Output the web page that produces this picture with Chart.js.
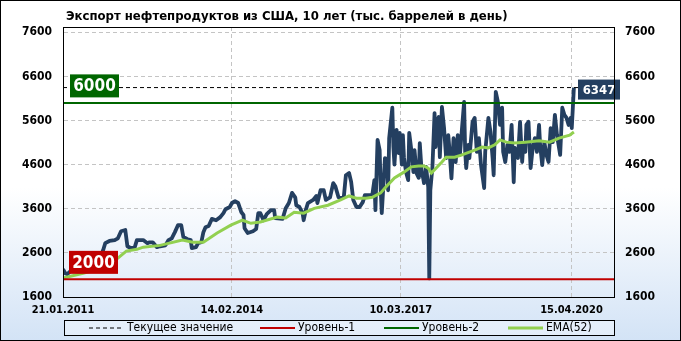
<!DOCTYPE html>
<html><head><meta charset="utf-8">
<script src="https://cdn.jsdelivr.net/npm/chart.js@4.4.0/dist/chart.umd.min.js"></script>
<style>html,body{margin:0;padding:0;background:#fff}#wrap{width:681px;height:341px;position:relative}</style>
</head><body><div id="wrap"><canvas id="c"></canvas></div>
<script>
// ---------- DATA ----------
const titleText = 'Экспорт нефтепродуктов из США, 10 лет (тыс. баррелей в день)';
const dateTickWeeks = [0, 160, 320, 481.7];           // weeks since 21.01.2011
const dateTickLabels = ['21.01.2011', '14.02.2014', '10.03.2017', '15.04.2020'];
const valueTicks = [1600, 2600, 3600, 4600, 5600, 6600, 7600];
const exportWeeks = [0,2,4,10,16,21,27,33,36,38,40,44,49,52,55,59,61,64,68,70,76,80,82,85,89,92,97,100,103,106,109,112,114,118,121,122,126,128,131,133,135,138,141,145,149,152,154,158,160,163,166,169,171,172,175,180,183,185,187,190,193,197,200,201,208,211,214,217,220,221,224,227,228,230,232,237,240,241,244,247,249,253,256,258,261,263,266,268,271,273,275,278,281,284,286,
  293,295,296,298,300,301,302,304,305,307,308,309,312,313,314,316,318,319,321,322,323,325,327,328,330,332,333,335,337,338,340,341,342,344,346,347,348,350,352,353,354,356,357,359,
  361,363,365,366,368,370,372,374,376,378,380,381,382,384,385,388,390,392,394,396,399,400,403,405,407,408,410,412,414,416,417,419,421,423,425,427,428,431,433,435,436,438,439,441,443,445,447,449,451,452,454,456,458,460,462,464,466,468,471,473,475,477,479,481,482,484];
const exportValues = [2230,2140,2120,2250,2300,2370,2390,2480,2520,2660,2820,2870,2890,2930,3090,3120,2750,2710,2730,2890,2890,2820,2840,2840,2730,2750,2770,2890,2930,3070,3230,3230,2960,2910,2890,2710,2730,2820,2840,3070,3180,3210,3370,3340,3410,3500,3590,3640,3730,3770,3730,3520,3460,3160,3050,3090,3140,3500,3500,3340,3480,3570,3570,3390,3370,3610,3730,3960,3860,3680,3640,3500,3340,3570,3730,3800,3890,3730,4020,4020,3800,3860,4180,4110,3860,3840,3860,4360,4410,4210,3800,3640,3640,3750,3910,
  3910,4250,3570,5160,4930,4020,3500,4320,4750,4710,4020,5200,5890,5000,4600,5390,4860,5320,4600,5270,4770,4430,4250,5320,4930,4430,4930,4400,4300,5090,4360,4320,4180,4550,4090,2020,4020,4550,5770,5000,5550,5680,4770,5910,
  5430,4750,5270,4980,4290,5200,4660,5270,4820,5430,6020,4890,4520,5050,4750,5570,5660,4890,5200,4590,4070,4890,5660,5340,4750,4360,6250,6020,5500,5890,4890,4660,5050,4890,5500,4200,4980,4750,5570,4660,5050,4890,5500,5570,4520,4980,5200,4890,5500,5050,4590,5110,4820,4660,5430,5110,5730,5270,4820,5890,5730,5660,5500,5660,5430,6347];
const emaWeeks = [0,19,41,52,60,70,76,92,113,123,133,146,159,170,178,187,203,211,219,228,238,251,263,271,278,287,293,301,305,314,323,330,337,342,346,349,359,363,371,378,390,397,403,409,414,420,428,438,451,461,470,480,484];
const emaValues = [2030,2140,2280,2480,2640,2680,2730,2770,2890,2840,2840,3050,3230,3340,3270,3300,3410,3390,3520,3500,3610,3680,3800,3890,3840,3840,3860,3960,4070,4300,4430,4550,4570,4570,4520,4410,4660,4770,4770,4820,4930,5000,4980,5050,5160,5110,5090,5110,5140,5110,5200,5270,5340];
const level1 = 2000;
const level2 = 6000;
const currentValue = 6347;
const legendLabels = ['Текущее значение', 'Уровень-1', 'Уровень-2', 'EMA(52)'];

// ---------- STYLE ----------
const FONT = "'DejaVu Sans Condensed','DejaVu Sans',sans-serif";
const NAVY = '#243f60', EMA_C = '#92d050', GREEN = '#006600', RED = '#c00000';
const X_MIN = 0, X_MAX = 522, Y_MIN = 1600, Y_MAX = 7720;

const toPts = (xs, ys) => xs.map((x, i) => ({x, y: ys[i]}));
const flat = v => [{x: X_MIN, y: v}, {x: X_MAX, y: v}];

const decor = {
  id: 'decor',
  beforeDraw(chart) {
    const {ctx, width, height} = chart;
    const g = ctx.createLinearGradient(0, 0, 0, height);
    g.addColorStop(0, '#ffffff'); g.addColorStop(0.55, '#ffffff'); g.addColorStop(1, '#d3e3f6');
    ctx.save(); ctx.fillStyle = g; ctx.fillRect(0, 0, width, height); ctx.restore();
  },
  afterDatasetsDraw(chart) {
    const {ctx} = chart;
    const ys = chart.scales.y;
    const a = chart.chartArea;
    const box = (text, x, yc, w, h, bg, size) => {
      ctx.fillStyle = bg; ctx.fillRect(x, yc - h / 2, w, h);
      ctx.fillStyle = '#fff'; ctx.font = 'bold ' + size + 'px ' + FONT;
      ctx.textAlign = 'center'; ctx.textBaseline = 'middle';
      ctx.fillText(text, x + w / 2, yc + 1);
    };
    ctx.save();
    box(String(level2), a.left + 7, ys.getPixelForValue(level2) - 17, 49, 23, GREEN, 17);
    box(String(level1), a.left + 6, ys.getPixelForValue(level1) - 17, 49, 23, RED, 17);
    box(String(currentValue), a.right - 36, ys.getPixelForValue(currentValue) + 2, 42, 20, NAVY, 13);
    ctx.strokeStyle = '#000'; ctx.lineWidth = 1;
    ctx.strokeRect(Math.round(a.left) + 0.5, Math.round(a.top) + 0.5, Math.round(a.right - a.left), Math.round(a.bottom - a.top));
    ctx.restore();
  },
  afterDraw(chart) {
    const {ctx, width, height} = chart;
    ctx.save();
    ctx.fillStyle = '#000'; ctx.font = 'bold 13px ' + FONT;
    ctx.textAlign = 'left'; ctx.textBaseline = 'middle';
    ctx.fillText(titleText, 66, 17);
    const ly = 328;
    ctx.fillStyle = 'rgba(255,255,255,0.35)';
    ctx.fillRect(64, 320.5, 550, 15);
    ctx.strokeStyle = '#000'; ctx.lineWidth = 1;
    ctx.strokeRect(64.5, 320.5, 550, 15);
    const items = [
      {x: 89, w: 33, color: '#000', lw: 1, dash: [4, 3], tx: 127},
      {x: 260, w: 35, color: RED, lw: 2, dash: [], tx: 298},
      {x: 384, w: 35, color: GREEN, lw: 2, dash: [], tx: 422},
      {x: 508, w: 35, color: EMA_C, lw: 3, dash: [], tx: 546}
    ];
    ctx.font = '12px ' + FONT;
    items.forEach((it, i) => {
      ctx.strokeStyle = it.color; ctx.lineWidth = it.lw; ctx.setLineDash(it.dash);
      ctx.beginPath(); ctx.moveTo(it.x, ly); ctx.lineTo(it.x + it.w, ly); ctx.stroke();
      ctx.setLineDash([]);
      ctx.fillStyle = '#000'; ctx.fillText(legendLabels[i], it.tx, ly);
    });
    ctx.strokeStyle = '#000'; ctx.lineWidth = 1;
    ctx.strokeRect(0.5, 0.5, width - 1, height - 1);
    ctx.restore();
  }
};

const yTicks = (scale) => { scale.ticks = valueTicks.map(v => ({value: v})); };

new Chart(document.getElementById('c'), {
  type: 'line',
  data: {
    datasets: [
      {label: legendLabels[1], data: flat(level1), borderColor: RED, borderWidth: 2, pointRadius: 0, order: 1},
      {label: legendLabels[2], data: flat(level2), borderColor: GREEN, borderWidth: 2, pointRadius: 0, order: 1},
      {label: legendLabels[0], data: flat(currentValue), borderColor: '#000', borderWidth: 1, borderDash: [4, 3], pointRadius: 0, order: 1},
      {label: legendLabels[3], data: toPts(emaWeeks, emaValues), borderColor: EMA_C, borderWidth: 3, pointRadius: 0, order: 2},
      {label: 'Экспорт', data: toPts(exportWeeks, exportValues), borderColor: NAVY, borderWidth: 3.8, pointRadius: 0, borderJoinStyle: 'round', order: 3}
    ]
  },
  options: {
    responsive: true, maintainAspectRatio: false, animation: false, devicePixelRatio: 1,
    layout: {padding: {left: 0, right: 0, top: 27, bottom: 0}},
    plugins: {legend: {display: false}, tooltip: {enabled: false}, title: {display: false}},
    scales: {
      x: {
        type: 'linear', min: X_MIN, max: X_MAX,
        afterBuildTicks: s => { s.ticks = dateTickWeeks.map(v => ({value: v})); },
        afterFit: s => { s.height = 44; },
        grid: {color: '#c4c4c4', drawTicks: false},
        border: {display: true, color: '#000', dash: [4, 3]},
        ticks: {padding: 7, maxRotation: 0, autoSkip: false, color: '#000', font: {family: FONT, weight: 'bold', size: 11},
          callback: (v, i) => dateTickLabels[i]}
      },
      y: {
        type: 'linear', position: 'left', min: Y_MIN, max: Y_MAX,
        afterBuildTicks: yTicks,
        afterFit: s => { s.width = 63; },
        grid: {color: '#c4c4c4', drawTicks: false},
        border: {display: true, color: '#000', dash: [4, 3]},
        ticks: {padding: 11, color: '#000', font: {family: FONT, weight: 'bold', size: 12}, callback: v => String(v)}
      },
      y2: {
        type: 'linear', position: 'right', min: Y_MIN, max: Y_MAX,
        afterBuildTicks: yTicks,
        afterFit: s => { s.width = 67; },
        grid: {display: false, drawTicks: false},
        border: {display: true, color: '#000'},
        ticks: {padding: 11, color: '#000', font: {family: FONT, weight: 'bold', size: 12}, callback: v => String(v)}
      }
    }
  },
  plugins: [decor]
});
</script>
</body></html>
